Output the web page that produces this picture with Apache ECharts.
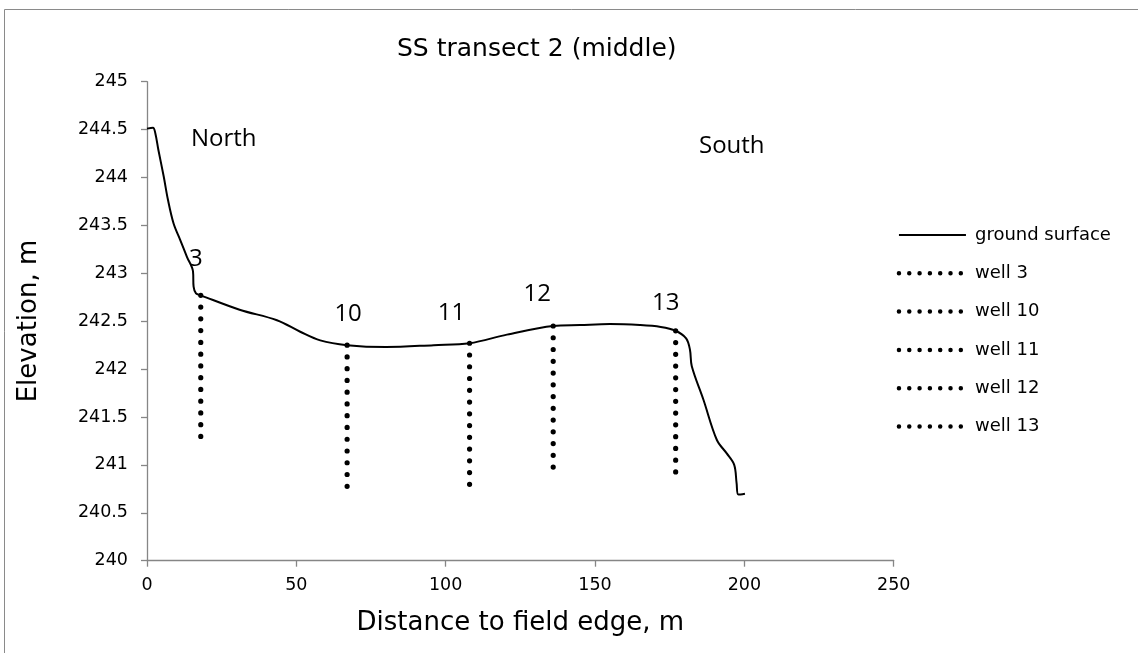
<!DOCTYPE html>
<html>
<head>
<meta charset="utf-8">
<title>SS transect 2 (middle)</title>
<script src="https://cdn.jsdelivr.net/npm/echarts@6/dist/echarts.min.js"></script>
<style>
  html, body { margin: 0; padding: 0; background: #fff; }
  #chart { width: 1138px; height: 653px; }
</style>
</head>
<body>
<div id="chart"></div>
<script>
// Ground surface profile along the transect (distance m, elevation m)
const surfaceX = [0, 2.0, 2.8, 3.8, 5.6, 7.0, 8.9, 11.1, 13.4, 15.4, 15.6, 16.4, 18,
  31, 43.5, 51.3, 58, 67, 80, 96, 108, 120.5, 136, 145, 155, 165, 172, 177,
  180.5, 181.8, 182.4, 186.3, 190.8, 194.1, 196.6, 197.4, 198.0, 200.2];
const surfaceY = [244.51, 244.52, 244.46, 244.29, 244.01, 243.77, 243.52, 243.35, 243.17, 243.02, 242.86, 242.79, 242.77,
  242.62, 242.51, 242.39, 242.30, 242.25, 242.23, 242.25, 242.27, 242.36, 242.45, 242.46, 242.47, 242.46, 242.44, 242.40,
  242.32, 242.20, 242.03, 241.68, 241.26, 241.12, 241.00, 240.81, 240.69, 240.70];

// Wells: position along the transect, top (ground) and bottom elevation
const wellNames = ['3', '10', '11', '12', '13'];
const wellX = [18, 67, 108, 136, 177];
const wellTop = [242.77, 242.25, 242.27, 242.45, 242.40];
const wellBottom = [241.28, 240.77, 240.79, 240.96, 240.92];

// Axis ticks
const xTicks = { min: 0, max: 250, step: 50 };
const yTicks = { min: 240, max: 245, step: 0.5 };

const SANS = 'DejaVu Sans';
const HAND = 'Open Sans';
const AXIS_GRAY = '#868686';

// pixel nudges for the well number labels, relative to each well head
const labelOffsets = [[-5, -24], [1, -19], [-18, -18], [-16, -20], [-10, -16]];

const dotStyle = { color: '#000', width: 5.2, type: [0.01, 11.75], cap: 'round' };

const series = [{
  name: 'ground surface',
  type: 'line',
  data: surfaceX.map((x, i) => [x, surfaceY[i]]),
  symbol: 'none',
  smooth: 0.35,
  lineStyle: { color: '#000', width: 2 },
  itemStyle: { color: '#000' },
  z: 3
}];

wellNames.forEach((n, i) => {
  series.push({
    name: 'well ' + n,
    type: 'line',
    data: [[wellX[i], wellTop[i]], [wellX[i], wellBottom[i]]],
    symbol: 'none',
    lineStyle: dotStyle,
    itemStyle: { color: '#000' },
    z: 2
  });
});

series.push({
  name: 'well labels',
  type: 'scatter',
  symbolSize: 0,
  silent: true,
  itemStyle: { opacity: 1, color: '#000' },
  data: wellNames.map((n, i) => ({
    value: [wellX[i], wellTop[i]],
    label: { formatter: n, offset: labelOffsets[i] }
  })),
  label: {
    show: true,
    position: 'top',
    distance: 0,
    color: '#000',
    fontFamily: HAND,
    fontSize: 24
  },
  z: 4
});

const legendDot = { type: [0.01, 10.3], width: 4.5, cap: 'round', color: '#000' };
const noMarker = { color: 'rgba(0,0,0,0)', borderWidth: 0, opacity: 0 };

const chart = echarts.init(document.getElementById('chart'), null, { renderer: 'canvas' });
chart.setOption({
  animation: false,
  backgroundColor: '#fff',
  title: {
    text: 'SS transect 2 (middle)',
    left: 397,
    top: 37,
    padding: 0,
    textStyle: { fontFamily: SANS, fontSize: 25, fontWeight: 'normal', color: '#000' }
  },
  grid: { left: 147, top: 81.7, right: 244.3, bottom: 92.3, containLabel: false },
  legend: {
    orient: 'vertical',
    left: 896.7,
    top: 226,
    padding: 0,
    itemWidth: 67,
    itemHeight: 18,
    itemGap: 20.3,
    selectedMode: false,
    itemStyle: noMarker,
    textStyle: { fontFamily: SANS, fontSize: 18, color: '#000', padding: [0, 0, 0, 4] },
    data: [
      { name: 'ground surface', lineStyle: { color: '#000', width: 2 }, itemStyle: noMarker },
      ...wellNames.map(n => ({ name: 'well ' + n, lineStyle: legendDot, itemStyle: noMarker }))
    ]
  },
  xAxis: {
    type: 'value',
    min: xTicks.min,
    max: xTicks.max,
    interval: xTicks.step,
    name: 'Distance to field edge, m',
    nameLocation: 'middle',
    nameGap: 50,
    nameTextStyle: { fontFamily: SANS, fontSize: 26, color: '#000', verticalAlign: 'top' },
    axisLine: { show: true, lineStyle: { color: AXIS_GRAY, width: 1.3 } },
    axisTick: { show: true, inside: false, length: 6, lineStyle: { color: AXIS_GRAY, width: 1.3 } },
    axisLabel: { margin: 16, fontFamily: SANS, fontSize: 17.5, color: '#000' },
    splitLine: { show: false }
  },
  yAxis: {
    type: 'value',
    min: yTicks.min,
    max: yTicks.max,
    interval: yTicks.step,
    axisLine: { show: true, lineStyle: { color: AXIS_GRAY, width: 1.3 } },
    axisTick: { show: true, inside: false, length: 6, lineStyle: { color: AXIS_GRAY, width: 1.3 } },
    axisLabel: { margin: 19, fontFamily: SANS, fontSize: 17.5, color: '#000' },
    splitLine: { show: false }
  },
  graphic: [
    {
      type: 'rect',
      z: -1,
      silent: true,
      shape: { x: 4.5, y: 9.5, width: 1160, height: 700 },
      style: { fill: 'none', stroke: '#8a8a8a', lineWidth: 1 }
    },
    {
      type: 'text',
      x: 29, y: 321,
      rotation: Math.PI / 2,
      silent: true,
      style: { text: 'Elevation, m', fontFamily: SANS, fontSize: 26, fill: '#000', align: 'center', verticalAlign: 'middle' }
    },
    {
      type: 'text',
      x: 191, y: 139,
      silent: true,
      style: { text: 'North', fontFamily: HAND, fontSize: 24, fill: '#000', align: 'left', verticalAlign: 'middle' }
    },
    {
      type: 'text',
      x: 699, y: 146,
      silent: true,
      style: { text: 'South', fontFamily: HAND, fontSize: 24, fill: '#000', align: 'left', verticalAlign: 'middle' }
    }
  ],
  series: series
});
</script>
</body>
</html>
